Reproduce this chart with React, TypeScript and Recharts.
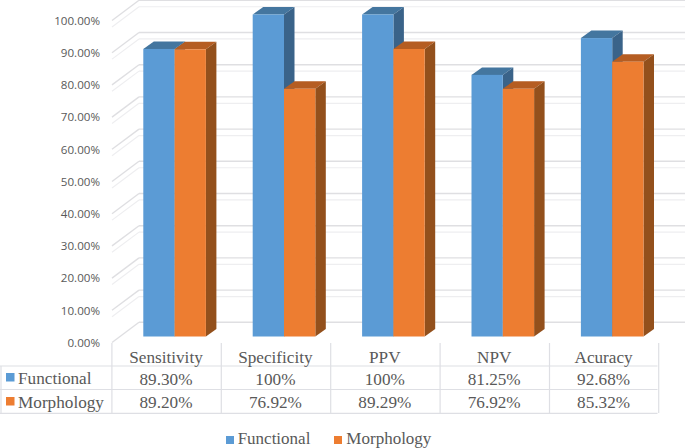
import { BarChart, Bar, XAxis, YAxis, Legend, CartesianGrid } from "recharts";

const categories = ["Sensitivity", "Specificity", "PPV", "NPV", "Acuracy"];
const functional = [89.3, 100, 100, 81.25, 92.68];
const morphology = [89.2, 76.92, 89.29, 76.92, 85.32];
const functionalLabels = ["89.30%", "100%", "100%", "81.25%", "92.68%"];
const morphologyLabels = ["89.20%", "76.92%", "89.29%", "76.92%", "85.32%"];
const majorTicks = [0, 10, 20, 30, 40, 50, 60, 70, 80, 90, 100];
const minorTicks = [
  2, 4, 6, 8, 12, 14, 16, 18, 22, 24, 26, 28, 32, 34, 36, 38, 42, 44, 46, 48, 52, 54, 56, 58, 62,
  64, 66, 68, 72, 74, 76, 78, 82, 84, 86, 88, 92, 94, 96, 98,
];

const data = categories.map((name, i) => ({
  name,
  functional: functional[i],
  morphology: morphology[i],
  functionalLabel: functionalLabels[i],
  morphologyLabel: morphologyLabels[i],
}));

const BLUE = "#5b9bd5";
const ORANGE = "#ed7d31";
const TEXT = "#595959";
const TABLE_LINE = "#dedfe4";
const SERIF = "'Liberation Serif', serif";

// depth of the fake 3d box
const DX = 10.5;
const DY = 7.5;

function Box3D(props: any, top: string, side: string) {
  const { x, y, width, height, fill } = props;
  const r = x + width;
  const b = y + height;
  return (
    <g>
      <path d={`M${x},${y}L${x + DX},${y - DY}L${r + DX},${y - DY}L${r},${y}Z`} fill={top} />
      <path d={`M${r},${y}L${r + DX},${y - DY}L${r + DX},${b - DY}L${r},${b}Z`} fill={side} />
      <rect x={x} y={y} width={width} height={height} fill={fill} />
    </g>
  );
}

// back wall line and the diagonal on the left wall
function wallLine(color: string, w: number) {
  return (props: any) => {
    const y = props.y1;
    return (
      <g key={props.key} stroke={color} strokeWidth={w} fill="none">
        <line x1={112} y1={y + 6} x2={139} y2={y - 14.2} />
        <line x1={139} y1={y - 14.2} x2={685} y2={y - 14.2} />
      </g>
    );
  };
}

function ValueTick({ y, payload }: any) {
  return (
    <text
      x={100}
      y={y + 10.2}
      textAnchor="end"
      fill={TEXT}
      fontSize={11.6}
      fontFamily="'Open Sans', sans-serif"
    >
      {payload.value.toFixed(2)}%
    </text>
  );
}

function TableTick({ x, payload, index }: any) {
  const row = data[index];
  const cx = x - 8.5;
  const left = cx - 54.6;
  const right = cx + 54.6;
  const common = { x: cx - 0.5, textAnchor: "middle" as const, fill: TEXT, fontSize: 17.2, fontFamily: SERIF };
  return (
    <g>
      <line x1={left} y1={343} x2={left} y2={413} stroke={TABLE_LINE} strokeWidth={1.2} />
      {index === categories.length - 1 && (
        <line x1={right} y1={343} x2={right} y2={413} stroke={TABLE_LINE} strokeWidth={1.2} />
      )}
      <text {...common} y={362.7}>{payload.value}</text>
      <text {...common} y={384.5}>{row.functionalLabel}</text>
      <text {...common} y={407.5}>{row.morphologyLabel}</text>
    </g>
  );
}

function LegendText(value: string) {
  return (
    <span style={{ color: TEXT, fontFamily: SERIF, fontSize: 17, marginRight: 14 }}>{value}</span>
  );
}

export default function App() {
  return (
    <div style={{ position: "absolute", left: 0, top: 0, width: 685, height: 448 }}>
      <BarChart
        width={685}
        height={448}
        data={data}
        barSize={31.3}
        barGap={0}
        margin={{ top: 14.5, right: 17.7, bottom: 15.5, left: 0 }}
      >
        <CartesianGrid vertical={false} horizontalValues={minorTicks} horizontal={wallLine("#eeeef0", 1.2)} />
        <CartesianGrid vertical={false} horizontalValues={majorTicks} horizontal={wallLine("#dfdfe2", 1.4)} />
        <XAxis
          dataKey="name"
          height={76}
          interval={0}
          axisLine={false}
          tickLine={false}
          tick={TableTick}
        />
        <YAxis
          width={120.3}
          domain={[0, 100]}
          ticks={majorTicks}
          axisLine={false}
          tickLine={false}
          tick={ValueTick}
        />
        <Legend
          height={20}
          iconType="square"
          iconSize={8}
          formatter={LegendText}
          wrapperStyle={{ left: 0, width: 681, bottom: -1, paddingLeft: 0 }}
        />
        <Bar
          dataKey="functional"
          name="Functional"
          fill={BLUE}
          isAnimationActive={false}
          shape={(p: any) => Box3D(p, "#44769f", "#3a6389")}
        />
        <Bar
          dataKey="morphology"
          name="Morphology"
          fill={ORANGE}
          isAnimationActive={false}
          shape={(p: any) => Box3D(p, "#b55d22", "#93501c")}
        />
        {/* table rows */}
        <g stroke={TABLE_LINE} strokeWidth={1.2}>
          <line x1={0} y1={366} x2={657.5} y2={366} />
          <line x1={0} y1={389.5} x2={657.5} y2={389.5} />
          <line x1={0} y1={413.3} x2={657.5} y2={413.3} />
          <line x1={1} y1={366} x2={1} y2={413.3} />
        </g>
        <rect x={6} y={373} width={8.5} height={8.5} fill={BLUE} />
        <rect x={6} y={397} width={8.5} height={8.5} fill={ORANGE} />
        <text x={18} y={384} fill={TEXT} fontSize={17.2} fontFamily={SERIF}>Functional</text>
        <text x={18} y={407.5} fill={TEXT} fontSize={17.2} fontFamily={SERIF}>Morphology</text>
      </BarChart>
    </div>
  );
}
